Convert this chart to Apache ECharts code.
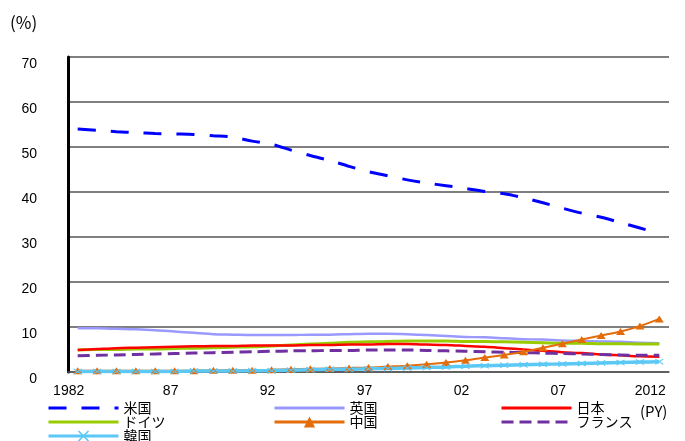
<!DOCTYPE html>
<html>
<head>
<meta charset="utf-8">
<script src="https://cdn.jsdelivr.net/npm/echarts@6/dist/echarts.min.js"></script>
<style>
html,body{margin:0;padding:0;background:#fff;}
#main{width:685px;height:441px;}
</style>
</head>
<body>
<div id="main"></div>
<script>
// Categories (fiscal years 1982-2012)
const years = ['1982','83','84','85','86','87','88','89','90','91','92','93','94','95','96','97','98','99','00','01','02','03','04','05','06','07','08','09','10','11','2012'];
// Series values (%)
const us      = [54.0,53.7,53.4,53.2,53.0,52.9,52.8,52.5,52.2,51.3,50.6,49.3,48.1,47.0,45.7,44.5,43.6,42.7,42.0,41.4,40.8,40.1,39.6,38.7,37.6,36.4,35.3,34.4,33.2,32.0,30.8];
const uk      = [9.7,9.7,9.6,9.5,9.3,9.0,8.7,8.4,8.3,8.2,8.2,8.2,8.3,8.3,8.4,8.5,8.5,8.4,8.2,8.0,7.8,7.7,7.5,7.3,7.2,7.0,6.9,6.8,6.7,6.5,6.4];
const japan   = [4.9,5.1,5.3,5.4,5.5,5.6,5.7,5.8,5.8,5.9,5.9,5.9,6.0,6.0,6.1,6.1,6.2,6.2,6.1,6.0,5.8,5.6,5.3,5.0,4.7,4.4,4.2,3.9,3.7,3.5,3.4];
const germany = [4.9,5.0,5.0,5.1,5.1,5.2,5.3,5.4,5.5,5.6,5.8,6.0,6.2,6.4,6.6,6.7,6.8,6.9,6.9,6.9,6.8,6.8,6.7,6.6,6.5,6.4,6.4,6.3,6.3,6.2,6.2];
const china   = [0.3,0.3,0.3,0.3,0.3,0.3,0.3,0.4,0.4,0.4,0.5,0.6,0.7,0.8,0.9,1.0,1.2,1.4,1.7,2.1,2.6,3.2,3.8,4.5,5.4,6.3,7.2,8.1,9.0,10.2,11.8];
const france  = [3.6,3.7,3.8,3.9,4.0,4.1,4.2,4.3,4.4,4.5,4.6,4.7,4.7,4.8,4.8,4.9,4.9,4.9,4.8,4.7,4.6,4.5,4.4,4.3,4.2,4.1,4.0,3.9,3.8,3.7,3.7];
const korea   = [0.1,0.1,0.1,0.1,0.1,0.1,0.2,0.2,0.2,0.3,0.3,0.4,0.5,0.6,0.6,0.7,0.8,0.9,1.0,1.1,1.3,1.4,1.5,1.6,1.7,1.8,1.9,2.0,2.1,2.2,2.3];
// Names
const names = ['米国','英国','日本','ドイツ','中国','フランス','韓国'];
const yTicks = {min:0, max:70, interval:10};

const cjk = '"Noto Sans CJK JP", "Noto Sans", sans-serif';
const num = '"Liberation Sans", Arial, sans-serif';

const xShape = 'path://M0,1L1,0L5,4L9,0L10,1L6,5L10,9L9,10L5,6L1,10L0,9L4,5Z';

const chart = echarts.init(document.getElementById('main'), null, {renderer:'canvas'});
const legendText = {fontFamily: cjk, fontSize: 14, color: '#000'};
function lg(name, left, top, hideSymbol) {
  const item = {name: name};
  if (hideSymbol) item.itemStyle = {opacity: 0};
  return {orient:'horizontal', itemWidth:70, itemHeight:14, itemGap:0, padding:0,
    lineStyle: {width: 3},
    textStyle: legendText, left: left, top: top, data: [item]};
}

chart.setOption({
  animation: false,
  backgroundColor: '#fff',
  grid: {left: 68, right: 16, top: 57, bottom: 69, containLabel: false},
  legend: [
    lg('米国', 47, 401, true),
    lg('ドイツ', 47, 415, true),
    lg('韓国', 47, 429, false),
    lg('英国', 273, 401, true),
    lg('中国', 273, 415, false),
    lg('日本', 500, 401, true),
    lg('フランス', 500, 415, true)
  ],
  graphic: [
    {type:'text', left: 10, top: 14, style:{text:'(%)', font: '17px ' + cjk, fill:'#000'}},
    {type:'text', left: 640, top: 404, style:{text:'(PY)', font: '15px ' + cjk, fill:'#000'}}
  ],
  xAxis: {
    type: 'category',
    data: years,
    boundaryGap: true,
    axisLine: {show:true, lineStyle:{color:'#555', width:1.5}},
    axisTick: {show:false},
    splitLine: {show:false},
    axisLabel: {
      interval: 4,
      margin: 12,
      formatter: v => v.length === 4 ? '{a|' + v + '}' : '{b|' + v + '}',
      rich: {
        a: {fontFamily: num, fontSize: 14, color:'#000', padding:[0,18,0,0]},
        b: {fontFamily: num, fontSize: 14, color:'#000', padding:[0,8,0,0]}
      }
    }
  },
  yAxis: {
    type: 'value',
    min: yTicks.min, max: yTicks.max, interval: yTicks.interval,
    axisLine: {show:true, lineStyle:{color:'#000', width:3}},
    axisTick: {show:false},
    splitLine: {show:true, lineStyle:{color:'#555', width:1.5}},
    axisLabel: {margin: 31, fontFamily: num, fontSize: 14, color:'#000', verticalAlign:'top'}
  },
  series: [
    {name: names[0], type:'line', data: us, smooth:0.3, symbol:'none',
      lineStyle:{color:'#0000ff', width:3, type:[18,15]}, itemStyle:{color:'#0000ff'}},
    {name: names[1], type:'line', data: uk, smooth:0.3, symbol:'none',
      lineStyle:{color:'#9999ff', width:2.5}, itemStyle:{color:'#9999ff'}},
    {name: names[3], type:'line', data: germany, smooth:0.3, symbol:'none',
      lineStyle:{color:'#99cc00', width:3}, itemStyle:{color:'#99cc00'}},
    {name: names[2], type:'line', data: japan, smooth:0.3, symbol:'none',
      lineStyle:{color:'#ff0000', width:2.5}, itemStyle:{color:'#ff0000'}},
    {name: names[5], type:'line', data: france, smooth:0.3, symbol:'none',
      lineStyle:{color:'#7030a0', width:3, type:[12,6]}, itemStyle:{color:'#7030a0'}},
    {name: names[4], type:'line', data: china, smooth:0.3, symbol:'triangle', symbolSize:[9,7], showSymbol:true,
      lineStyle:{color:'#e46c0a', width:2}, itemStyle:{color:'#e46c0a'}},
    {name: names[6], type:'line', data: korea, smooth:0.3, symbol: xShape, symbolSize:[9,6], showSymbol:true,
      lineStyle:{color:'#5bc8f5', width:3.5}, itemStyle:{color:'#5bc8f5'}}
  ]
});
</script>
</body>
</html>
